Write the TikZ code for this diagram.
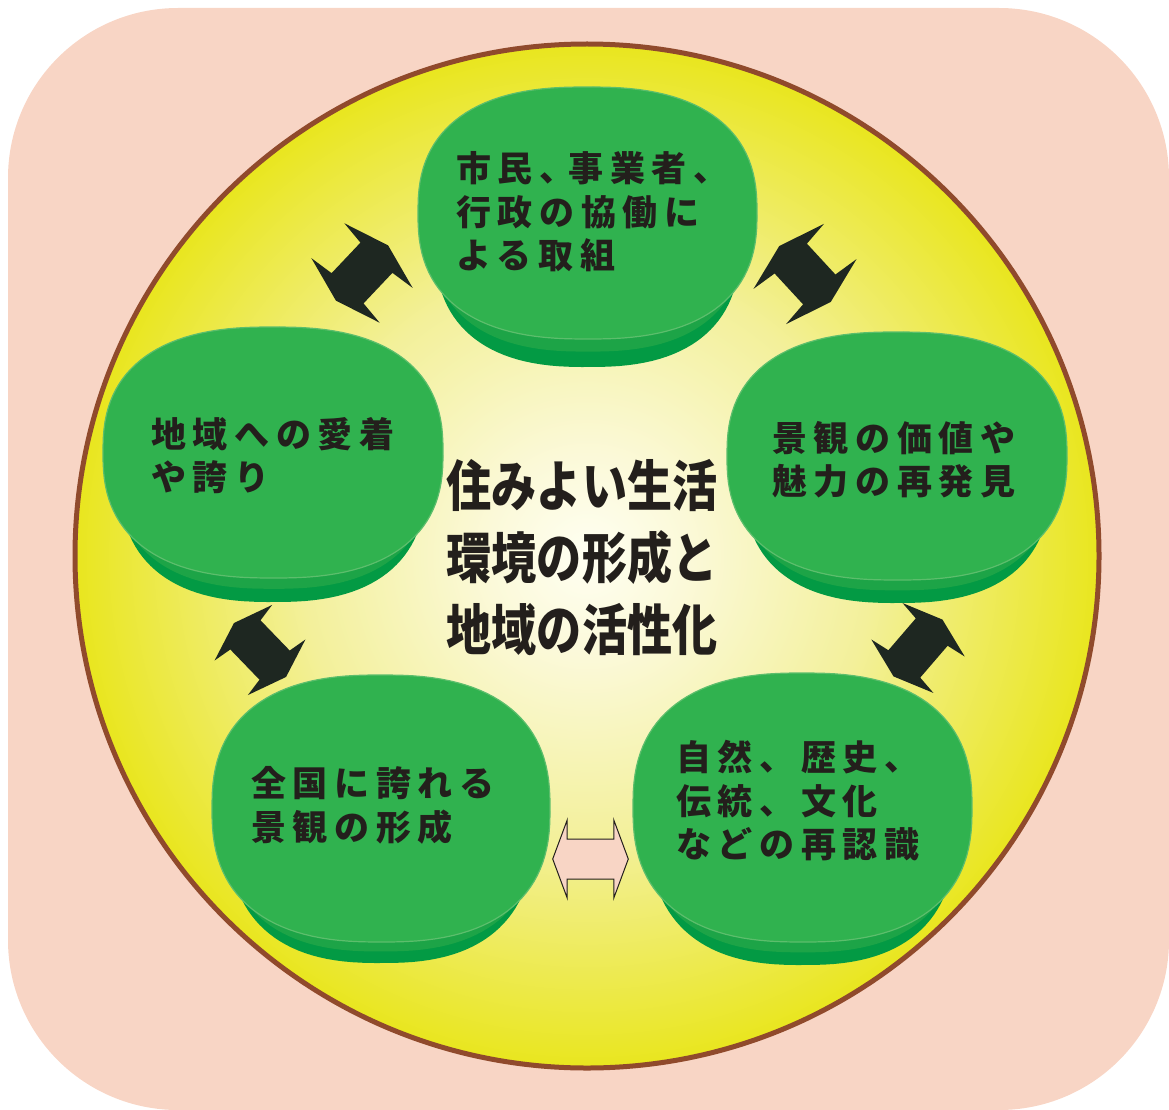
\documentclass[tikz,border=0pt]{standalone}
\usepackage{fontspec}
\newfontfamily\jpfont{Noto Sans CJK JP}[LetterSpace=19]
\newfontfamily\jptitle{Noto Sans CJK JP}[FakeStretch=0.82]
\definecolor{bgpink}{HTML}{F8D5C5}
\definecolor{ringbrown}{HTML}{904A2C}
\definecolor{discA}{HTML}{FFFFF2}
\definecolor{discB}{HTML}{FBF9D8}
\definecolor{discC}{HTML}{F3F09A}
\definecolor{discD}{HTML}{E9E61E}
\definecolor{faceg}{HTML}{30B24F}
\definecolor{rimg}{HTML}{5CBE6C}
\definecolor{sideg}{HTML}{039A44}
\definecolor{sidelight}{HTML}{1DA447}
\definecolor{arrowdark}{HTML}{1E2721}
\definecolor{textdark}{HTML}{231F1C}
\pgfdeclareradialshading{discshade}{\pgfpoint{0bp}{0bp}}{color(0bp)=(discA); color(5bp)=(discB); color(14bp)=(discC); color(25bp)=(discD); color(50bp)=(discD)}
\newcommand{\greenblob}[5]{%
  \fill[sideg] plot[domain=1:361,samples=121] ({#1+0.9*#3*sign(cos(\x))*pow(abs(cos(\x)),0.8)},{#2+#5+#4*sign(sin(\x))*pow(abs(sin(\x)),0.8)}) -- cycle;
  \fill[sidelight] plot[domain=1:361,samples=121] ({#1+0.93*#3*sign(cos(\x))*pow(abs(cos(\x)),0.8)},{#2+0.45*#5+#4*sign(sin(\x))*pow(abs(sin(\x)),0.8)}) -- cycle;
  \filldraw[fill=faceg,draw=rimg,line width=1.2pt] plot[domain=1:361,samples=121] ({#1+#3*sign(cos(\x))*pow(abs(cos(\x)),0.8)},{#2+#4*sign(sin(\x))*pow(abs(sin(\x)),0.8)}) -- cycle;
}
\newcommand{\dblarrow}[8]{% center, angle, halflen, notch, body hw, barb hw, barb shift, style
  \begin{scope}[shift={(#1)},rotate=#2]
    \path[#8] (-#3,0) -- ({-#4-#7},#6) -- (-#4,#5) -- (#4,#5) -- ({#4+#7},#6) -- (#3,0)
      -- ({#4+#7},-#6) -- (#4,-#5) -- (-#4,-#5) -- ({-#4-#7},-#6) -- cycle;
  \end{scope}
}
\tikzset{
  blobtext/.style={anchor=west,align=left,inner sep=0pt,text=textdark,
    font=\jpfont\bfseries\fontsize{35}{43.5}\selectfont},
  titletext/.style={anchor=center,align=center,inner sep=0pt,text=textdark,
    font=\jptitle\bfseries\fontsize{55}{72}\selectfont},
  darkarrow/.style={fill=arrowdark},
  pinkarrow/.style={fill=bgpink,draw=textdark,line width=1pt,line join=miter}
}
\begin{document}
\begin{tikzpicture}[x=1pt,y=-1pt]
\useasboundingbox (0,0) rectangle (1169,1110);
% background
\fill[bgpink,rounded corners=170pt] (8,8) rectangle (1169,1110);
% disc
\shade[shading=discshade] (587,556) circle[radius=512];
\draw[ringbrown,line width=5pt] (587,556) circle[radius=512];
% blobs
\greenblob{587.5}{213}{169.5}{126}{28}
\greenblob{897}{456}{170}{124}{23}
\greenblob{273}{452.5}{170}{125.5}{24}
\greenblob{802.5}{807.5}{169.5}{134.5}{23}
\greenblob{381}{808.5}{169}{133.5}{21}
% texts
\node[blobtext] (t1) at (456,212) {市民、\kern-6pt事業者、\\行政の協働に\\よる取組};
\node[blobtext] (t2) at (772,459.5) {景観の価値や\\魅力の再発見};
\node[blobtext] (t3) at (151,455.5) {地域への愛着\\や誇り};
\node[blobtext] (t4) at (676,801) {自然、歴史、\\伝統、文化\\などの再認識};
\node[blobtext] (t5) at (251,805.5) {全国に誇れる\\景観の形成};
\node[titletext] (c) at (582,558) {住みよい生活\\環境の形成と\\地域の活性化};
% arrows
\coordinate (a1) at (362,273);
\coordinate (a2) at (805,274);
\coordinate (a3) at (918,648);
\coordinate (a4) at (260,650);
\coordinate (a5) at (590.5,859);
\dblarrow{a1}{46.6}{38}{21}{22}{47}{3}{darkarrow}
\dblarrow{a2}{-47.3}{38}{21}{22}{48}{3}{darkarrow}
\dblarrow{a3}{49.3}{37.5}{21}{21}{41}{3}{darkarrow}
\dblarrow{a4}{-46}{37.5}{21}{21}{40}{3}{darkarrow}
\dblarrow{a5}{0}{37.8}{23.3}{20}{39}{0}{pinkarrow}
\end{tikzpicture}
\end{document}
